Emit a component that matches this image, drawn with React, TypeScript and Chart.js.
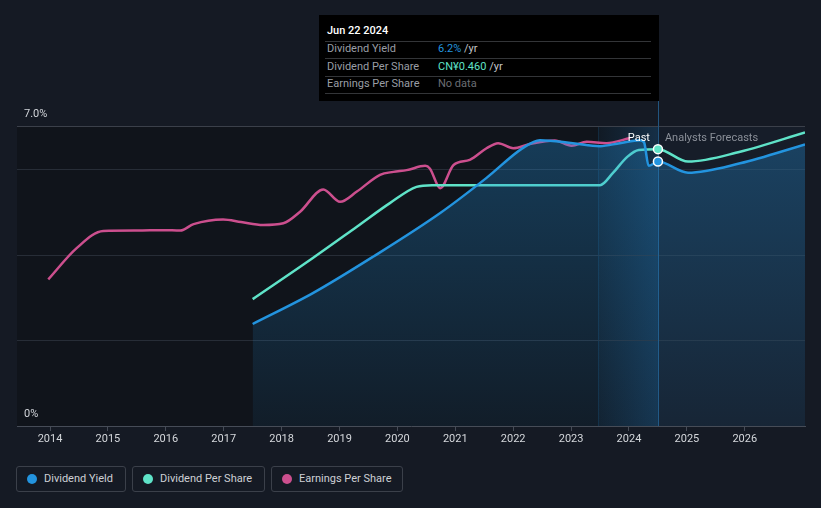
import React, { useEffect, useRef } from 'react';
import { Chart, registerables } from 'chart.js';

Chart.register(...registerables);

// ---------- data ----------
const yearTicks = [2014, 2015, 2016, 2017, 2018, 2019, 2020, 2021, 2022, 2023, 2024, 2025, 2026];
const yTickValues = [0, 2, 4, 6, 7];
const yLabelValues = [0, 7];

const dyYears = [2017.5, 2018.54, 2019.58, 2020.74, 2021.54, 2022.17, 2022.46, 2023.03, 2023.5, 2023.84, 2024.19, 2024.26, 2024.34, 2024.5, 2025.02, 2025.92, 2027.04];
const dyValues = [2.38, 3.1, 3.95, 4.97, 5.79, 6.49, 6.67, 6.6, 6.53, 6.6, 6.67, 6.62, 6.07, 6.17, 5.91, 6.13, 6.57];

const dpsYears = [2017.5, 2018.54, 2019.3, 2019.87, 2020.33, 2020.6, 2023.5, 2023.72, 2023.97, 2024.17, 2024.5, 2025.02, 2025.92, 2027.04];
const dpsValues = [2.96, 3.92, 4.65, 5.2, 5.58, 5.62, 5.62, 5.9, 6.28, 6.44, 6.46, 6.17, 6.4, 6.85];

const epsYears = [2013.97, 2014.46, 2014.92, 2015.5, 2015.96, 2016.25, 2016.48, 2016.99, 2017.3, 2017.68, 2018.03, 2018.32, 2018.72, 2019.01, 2019.3, 2019.7, 2019.93, 2020.16, 2020.48, 2020.56, 2020.74, 2020.97, 2021.25, 2021.54, 2021.74, 2022.0, 2022.29, 2022.72, 2023.01, 2023.27, 2023.61, 2024.02];
const epsValues = [3.42, 4.15, 4.55, 4.56, 4.57, 4.56, 4.71, 4.82, 4.76, 4.69, 4.73, 5.0, 5.52, 5.23, 5.47, 5.86, 5.93, 5.97, 6.07, 6.01, 5.55, 6.09, 6.21, 6.48, 6.6, 6.48, 6.58, 6.66, 6.54, 6.63, 6.6, 6.72];

const xMin = 2013.43;
const xMax = 2027.04;
const pastEnd = 2024.5;
const bandStart = 2023.47;

const seriesNames = ['Dividend Yield', 'Dividend Per Share', 'Earnings Per Share'];
const seriesColors = ['#2394df', '#5fe3c8', '#cc4f8e'];

const tooltipTitle = 'Jun 22 2024';
const tooltipRows = [
  { label: 'Dividend Yield', value: '6.2%', unit: ' /yr', color: '#2394df' },
  { label: 'Dividend Per Share', value: 'CN¥0.460', unit: ' /yr', color: '#5fe3c8' },
  { label: 'Earnings Per Share', value: 'No data', unit: '', color: '#6b6e74' },
];

const FONT = 'Roboto, "Noto Sans", sans-serif';

const toPoints = (xs: number[], ys: number[]) => xs.map((x, i) => ({ x, y: ys[i] }));

const bgPlugin = {
  id: 'bgPlugin',
  beforeDraw(chart: any) {
    const { ctx, chartArea: ca, scales } = chart;
    const x = scales.x;
    const y = scales.y;
    const xp = x.getPixelForValue(pastEnd);
    const xb = x.getPixelForValue(bandStart);
    ctx.save();
    // past region
    ctx.fillStyle = '#10141b';
    ctx.fillRect(ca.left, ca.top, xp - ca.left, ca.bottom - ca.top);
    // forecast region
    ctx.fillStyle = '#161d29';
    ctx.fillRect(xp, ca.top, ca.right - xp, ca.bottom - ca.top);
    // highlighted band (brighter towards the "today" line)
    const g = ctx.createLinearGradient(xb, 0, xp, 0);
    g.addColorStop(0, 'rgba(36,125,196,0.06)');
    g.addColorStop(1, 'rgba(36,125,196,0.26)');
    ctx.fillStyle = g;
    ctx.fillRect(xb, ca.top, xp - xb, ca.bottom - ca.top);
    ctx.strokeStyle = 'rgba(36,125,196,0.18)';
    ctx.lineWidth = 1;
    ctx.beginPath();
    ctx.moveTo(Math.round(xb) + 0.5, ca.top);
    ctx.lineTo(Math.round(xb) + 0.5, ca.bottom);
    ctx.stroke();
    // grid lines
    yTickValues.forEach((v) => {
      if (v === 0) return;
      const py = Math.round(y.getPixelForValue(v)) + 0.5;
      ctx.strokeStyle = v === 7 ? '#3b404a' : '#272d37';
      ctx.lineWidth = 1;
      ctx.beginPath();
      ctx.moveTo(ca.left, py);
      ctx.lineTo(ca.right, py);
      ctx.stroke();
    });
    ctx.restore();
  },
  beforeDatasetsDraw(chart: any) {
    const { ctx, chartArea: ca, scales } = chart;
    const xp = Math.round(scales.x.getPixelForValue(pastEnd)) + 0.5;
    ctx.save();
    ctx.strokeStyle = '#22557f';
    ctx.lineWidth = 1;
    ctx.beginPath();
    ctx.moveTo(xp, 101);
    ctx.lineTo(xp, ca.bottom);
    ctx.stroke();
    ctx.restore();
  },
  afterDatasetsDraw(chart: any) {
    const { ctx, chartArea: ca, scales } = chart;
    const xp = scales.x.getPixelForValue(pastEnd);
    const y = scales.y;
    ctx.save();
    ctx.font = `11px ${FONT}`;
    ctx.textBaseline = 'middle';
    ctx.textAlign = 'right';
    ctx.fillStyle = '#ffffff';
    ctx.fillText('Past', xp - 8, 138);
    ctx.textAlign = 'left';
    ctx.fillStyle = '#8b9099';
    ctx.fillText('Analysts Forecasts', xp + 7, 138);
    // y labels
    ctx.fillStyle = '#d3d6db';
    yLabelValues.forEach((v) => {
      const py = y.getPixelForValue(v);
      ctx.fillText(v === 0 ? '0%' : v.toFixed(1) + '%', ca.left + 7, py - 12);
    });
    ctx.restore();
  },
};

export default function App() {
  const canvasRef = useRef<HTMLCanvasElement | null>(null);

  useEffect(() => {
    document.body.style.margin = '0';
    const canvas = canvasRef.current;
    if (!canvas) return;
    const pointRadius = (c: any) => (c.raw && c.raw.x === pastEnd ? 4.5 : 0);
    const chart = new Chart(canvas, {
      type: 'line',
      data: {
        datasets: [
          {
            label: seriesNames[0],
            data: toPoints(dyYears, dyValues),
            borderColor: seriesColors[0],
            borderWidth: 2.5,
            fill: 'origin',
            backgroundColor: (c: any) => {
              const ca = c.chart.chartArea;
              if (!ca) return 'rgba(35,148,223,0.2)';
              const g = c.chart.ctx.createLinearGradient(0, ca.top, 0, ca.bottom);
              g.addColorStop(0, 'rgba(35,148,223,0.32)');
              g.addColorStop(1, 'rgba(35,148,223,0.07)');
              return g;
            },
            pointRadius,
            pointBackgroundColor: seriesColors[0],
            pointBorderColor: '#ffffff',
            pointBorderWidth: 1.5,
          },
          {
            label: seriesNames[1],
            data: toPoints(dpsYears, dpsValues),
            borderColor: seriesColors[1],
            borderWidth: 2.5,
            fill: false,
            pointRadius,
            pointBackgroundColor: seriesColors[1],
            pointBorderColor: '#ffffff',
            pointBorderWidth: 1.5,
          },
          {
            label: seriesNames[2],
            data: toPoints(epsYears, epsValues),
            borderColor: seriesColors[2],
            borderWidth: 2.5,
            fill: false,
            pointRadius: 0,
          },
        ],
      },
      options: {
        animation: false,
        responsive: false,
        maintainAspectRatio: false,
        layout: { padding: { left: 17, right: 16, top: 126, bottom: 0 } },
        elements: { line: { cubicInterpolationMode: 'monotone' } },
        plugins: { legend: { display: false }, tooltip: { enabled: false } },
        scales: {
          x: {
            type: 'linear',
            min: xMin,
            max: xMax,
            afterBuildTicks: (s: any) => {
              s.ticks = yearTicks.map((v) => ({ value: v }));
            },
            afterFit: (s: any) => {
              s.height = 24;
            },
            ticks: {
              color: '#d5d8dc',
              font: { family: FONT, size: 11 },
              padding: 2,
              maxRotation: 0,
              autoSkip: false,
              callback: (v: any) => String(v),
            },
            grid: { drawOnChartArea: false, drawTicks: true, tickLength: 5, color: '#464c57' },
            border: { color: '#464c57', width: 1 },
          },
          y: { display: false, min: 0, max: 7 },
        },
      } as any,
      plugins: [bgPlugin],
    });
    return () => chart.destroy();
  }, []);

  const legendBoxes = [
    { left: 16, width: 110 },
    { left: 132, width: 133 },
    { left: 271, width: 132 },
  ];

  return (
    <div style={{ position: 'relative', width: 821, height: 508, background: '#151a24', fontFamily: FONT, overflow: 'hidden' }}>
      <canvas ref={canvasRef} width={821} height={450} style={{ position: 'absolute', left: 0, top: 0, width: 821, height: 450, display: 'block' }} />
      <div style={{ position: 'absolute', left: 319, top: 15, width: 340, height: 86, background: '#000000', fontSize: 11 }}>
        <div style={{ position: 'absolute', left: 8, top: 9, lineHeight: '14px', color: '#ffffff', fontWeight: 500 }}>{tooltipTitle}</div>
        {[26, 43, 61, 78].map((t) => (
          <div key={t} style={{ position: 'absolute', left: 6, right: 8, top: t, height: 1, background: '#333538' }} />
        ))}
        {tooltipRows.map((r, i) => (
          <div key={r.label} style={{ position: 'absolute', left: 8, top: 27 + i * 17.6, lineHeight: '14px', width: 320 }}>
            <span style={{ color: '#9a9ea5' }}>{r.label}</span>
            <span style={{ position: 'absolute', left: 111, whiteSpace: 'nowrap' }}>
              <span style={{ color: r.color }}>{r.value}</span>
              <span style={{ color: '#c4c6ca' }}>{r.unit}</span>
            </span>
          </div>
        ))}
      </div>
      {seriesNames.map((name, i) => (
        <div
          key={name}
          style={{
            position: 'absolute',
            left: legendBoxes[i].left,
            top: 466,
            width: legendBoxes[i].width,
            height: 26,
            boxSizing: 'border-box',
            border: '1px solid #3b404a',
            borderRadius: 3,
            fontSize: 11,
            color: '#cdd0d5',
          }}
        >
          <div style={{ position: 'absolute', left: 10, top: 7, width: 10, height: 10, borderRadius: 5, background: seriesColors[i] }} />
          <div style={{ position: 'absolute', left: 27, top: 0, lineHeight: '24px', whiteSpace: 'nowrap' }}>{name}</div>
        </div>
      ))}
    </div>
  );
}
